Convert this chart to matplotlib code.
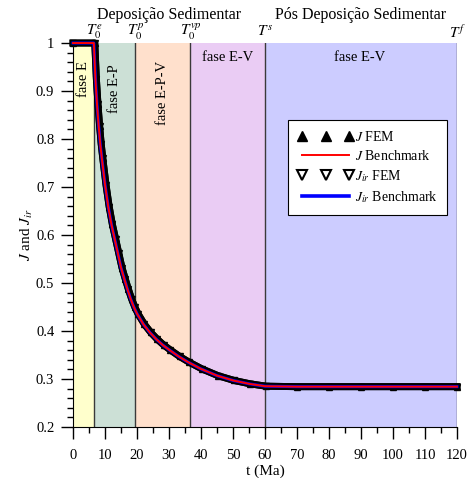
import matplotlib
matplotlib.use("Agg")
import matplotlib.pyplot as plt
from matplotlib.lines import Line2D

plt.rcParams['font.family'] = ['Liberation Serif', 'DejaVu Serif']
plt.rcParams['mathtext.fontset'] = 'stix'

# benchmark solution (J and J_ir coincide at this scale)
t_bench = [0, 6.5, 7, 7.5, 8, 8.5, 9, 10, 11, 12, 13, 14, 15, 16, 17, 18, 19, 20,
           22, 24, 26, 28, 30, 33, 36, 40, 45, 50, 55, 60, 70, 80, 90, 100, 110, 120]
j_bench = [1.0, 1.0, 0.925, 0.872, 0.828, 0.790, 0.760, 0.705, 0.659, 0.622, 0.592,
           0.562, 0.532, 0.509, 0.487, 0.467, 0.450, 0.436, 0.414, 0.397, 0.383,
           0.371, 0.361, 0.347, 0.335, 0.321, 0.307, 0.297, 0.290, 0.285, 0.284,
           0.284, 0.284, 0.284, 0.284, 0.284]
jir_bench = j_bench

# FEM solution, lags the benchmark a little
t_fem = [0, 6.8, 7.3, 7.8, 8.3, 8.8, 9.3, 10.3, 11.3, 12.3, 13.3, 14.3, 15.3, 16.3,
         17.3, 18.3, 19.3, 20.3, 22.3, 24.3, 26.3, 28.3, 30.3, 33.3, 36.3, 40.3,
         45.3, 50.3, 55.3, 60.3, 70, 80, 90, 100, 110, 120]
j_fem = [1.0, 1.0, 0.925, 0.872, 0.828, 0.790, 0.760, 0.705, 0.659, 0.622, 0.592,
         0.562, 0.532, 0.509, 0.487, 0.467, 0.450, 0.436, 0.414, 0.397, 0.383,
         0.371, 0.361, 0.347, 0.335, 0.321, 0.307, 0.297, 0.290, 0.285, 0.284,
         0.284, 0.284, 0.284, 0.284, 0.284]
jir_fem = j_fem

phase_edges = [0, 6.5, 19.4, 36.7, 60, 120]
phase_colors = ['#FFFFCC', '#CCE0D6', '#FFE0CC', '#EACCF4', '#CCCCFF']
phase_names = ['fase E', 'fase E-P', 'fase E-P-V', 'fase E-V', 'fase E-V']
phase_text_pos = [(3.3, 0.925), (12.9, 0.905), (28.0, 0.895), (48.3, 0.97), (89.5, 0.97)]
phase_rot = [90, 90, 90, 0, 0]
time_marks = ['$T_0^e$', '$T_0^p$', '$T_0^{vp}$', '$T^s$', '$T^f$']

fig = plt.figure(figsize=(4.72, 4.78), dpi=100)
ax = fig.add_axes([0.1547, 0.1067, 0.8135, 0.8033])

for i in range(5):
    ax.axvspan(phase_edges[i], phase_edges[i + 1], color=phase_colors[i], lw=0, zorder=0)
    ax.axvline(phase_edges[i + 1], color='#3a3a3a', lw=1.0, zorder=1)
    tx, ty = phase_text_pos[i]
    ax.text(tx, ty, phase_names[i], rotation=phase_rot[i], ha='center', va='center',
            fontsize=10.5, zorder=2)
    ax.text(phase_edges[i + 1], 1.024, time_marks[i], ha='center', va='center',
            fontsize=11, zorder=2, clip_on=False)

ax.text(30, 1.058, 'Deposição Sedimentar', ha='center', va='center', fontsize=11.5)
ax.text(90, 1.058, 'Pós Deposição Sedimentar', ha='center', va='center', fontsize=11.5)

ax.plot(t_fem, jir_fem, color='black', lw=5, marker='v', ms=4, mfc='white',
        mec='black', zorder=3, clip_on=False)
ax.plot(t_fem, j_fem, color='black', lw=5, marker='^', ms=4, zorder=4, clip_on=False)
ax.plot(t_bench, jir_bench, color='#0000FF', lw=2.2, zorder=5, clip_on=False)
ax.plot(t_bench, j_bench, color='#FF0000', lw=1.4, zorder=6, clip_on=False)

ax.set_xlim(0, 120)
ax.set_ylim(0.2, 1.0)
ax.set_xticks(range(0, 121, 10))
ax.set_xticks(range(0, 121, 5), minor=True)
ax.set_yticks([0.2, 0.3, 0.4, 0.5, 0.6, 0.7, 0.8, 0.9, 1.0])
ax.set_yticklabels(['0.2', '0.3', '0.4', '0.5', '0.6', '0.7', '0.8', '0.9', '1'])
ax.set_yticks([0.2 + 0.02 * k for k in range(41)], minor=True)
ax.tick_params(which='major', direction='out', length=8.5, width=1, labelsize=10.5, pad=5)
ax.tick_params(axis='x', which='major', pad=7)
ax.tick_params(which='minor', direction='out', length=4.5, width=1)
for s in ['top', 'right']:
    ax.spines[s].set_visible(False)

ax.set_xlabel('t (Ma)', fontsize=11, labelpad=2)
ax.set_ylabel('$J$ and $J_{ir}$', fontsize=11, labelpad=1)

handles = [
    Line2D([], [], ls='none', marker='^', ms=7, color='black'),
    Line2D([], [], color='#FF0000', lw=1.4),
    Line2D([], [], ls='none', marker='v', ms=7, mfc='white', mec='black', mew=1.5),
    Line2D([], [], color='#0000FF', lw=2.6),
]
labels = ['$J$ FEM', '$J$ Benchmark', '$J_{ir}$ FEM', '$J_{ir}$ Benchmark']
leg = ax.legend(handles, labels, loc='upper left', bbox_to_anchor=(0.56, 0.80),
                fontsize=10, numpoints=3, handlelength=4.0, handletextpad=0.1,
                labelspacing=0.38, borderpad=0.7, fancybox=False, framealpha=1,
                edgecolor='black', borderaxespad=0)
leg.get_frame().set_linewidth(0.8)

fig.savefig('out.png', dpi=100)
